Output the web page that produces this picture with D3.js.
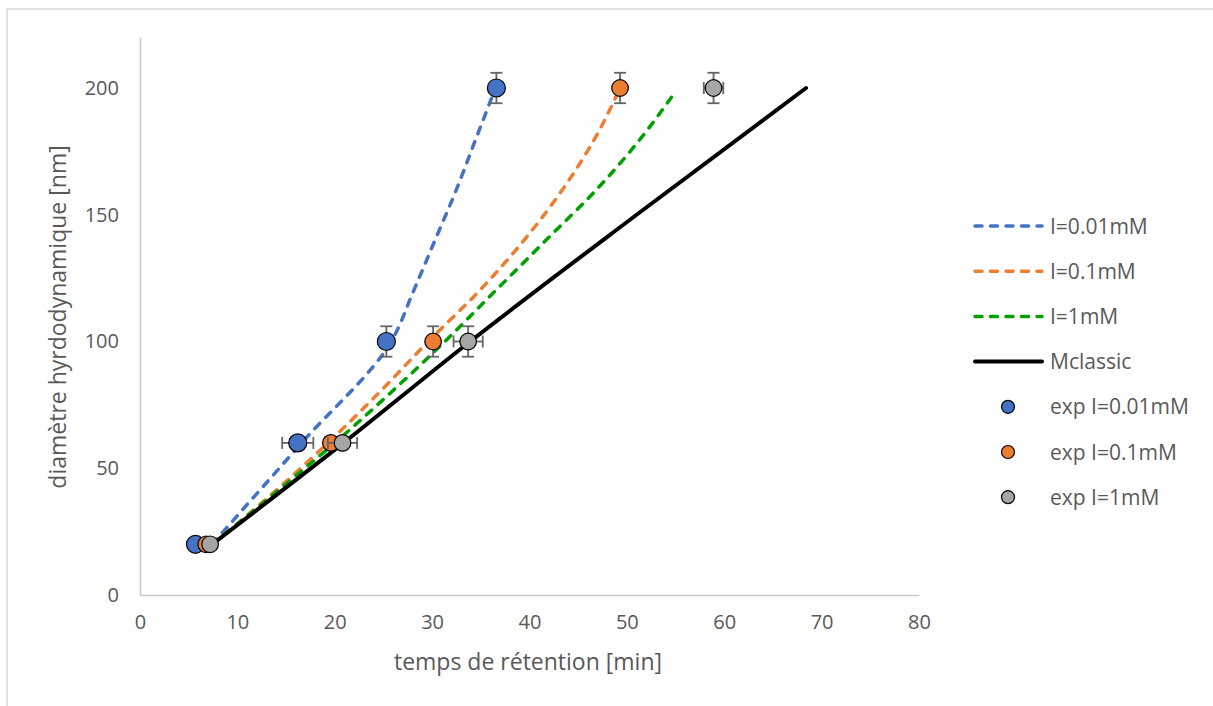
<!DOCTYPE html>
<html><head><meta charset="utf-8">
<script src="https://cdn.jsdelivr.net/npm/d3@7"></script>
<style>html,body{margin:0;padding:0;background:#fff;overflow:hidden}</style>
</head><body>
<svg id="c" width="1213" height="706"></svg>
<script>
// ---- data ----
const diameters = [20, 60, 100, 200];
const expTimeI001 = [5.7, 16.2, 25.3, 36.6];
const expTimeI01  = [6.8, 19.6, 30.1, 49.3];
const expTimeI1   = [7.2, 20.8, 33.7, 58.9];
const yErrI001 = [0, 0, 6, 6];
const xErrI001 = [0, 1.6, 0, 0];
const yErrI01  = [0, 0, 6, 6];
const xErrI01  = [0, 0, 0, 0];
const yErrI1   = [0, 0, 6, 6];
const xErrI1   = [0, 1.5, 1.5, 1.0];

const curveI001_t = [7.4, 16.6, 25.8, 28.1, 30.3, 32.5, 34.5, 36.5];
const curveI001_d = [20, 60, 100, 120, 140, 160, 180, 200];
const curveI01_t  = [7.4, 13.6, 19.3, 24.6, 29.6, 34.85, 39.45, 43.4, 46.7, 49.3];
const curveI01_d  = [20, 40, 60, 80, 100, 120, 140, 160, 180, 200];
const curveI1_t   = [7.4, 13.8, 20.0, 25.8, 31.3, 36.5, 41.7, 46.9, 51.4, 54.7];
const curveI1_d   = [20, 40, 60, 80, 100, 120, 140, 160, 180, 197];
const classic_t   = [7.4, 20.9, 33.9, 51.0, 68.4];
const classic_d   = [20, 60, 100, 150, 200];

const xTicks = [0, 10, 20, 30, 40, 50, 60, 70, 80];
const yTicks = [0, 50, 100, 150, 200];

const lineNames = ["I=0.01mM", "I=0.1mM", "I=1mM", "Mclassic"];
const expNames = ["exp I=0.01mM", "exp I=0.1mM", "exp I=1mM"];
const xTitle = "temps de rétention [min]";
const yTitle = "diamètre hyrdodynamique [nm]";

// ---- drawing ----
const svg = d3.select("#c");
const textCol = "#595959", font = "'Open Sans', sans-serif";

// outer chart border
svg.append("rect").attr("x", 7).attr("y", 9).attr("width", 1300).attr("height", 800)
  .attr("fill", "none").attr("stroke", "#d9d9d9").attr("stroke-width", 1.5);

const x = d3.scaleLinear().domain([0, 80]).range([140, 919]);
const y = d3.scaleLinear().domain([0, 220]).range([595, 37.3]);

// axes
const gx = svg.append("g").attr("transform", `translate(0,${y(0)})`)
  .call(d3.axisBottom(x).tickValues(xTicks).tickSize(0).tickPadding(20));
const gy = svg.append("g").attr("transform", `translate(${x(0)},0)`)
  .call(d3.axisLeft(y).tickValues(yTicks).tickSize(0).tickPadding(21));
[gx, gy].forEach(g => {
  g.select(".domain").attr("stroke", "#c8c8c8").attr("stroke-width", 1.6);
  g.selectAll("text").attr("fill", textCol).style("font-family", font).style("font-size", "20px");
});

// axis titles
svg.append("text").attr("x", 528).attr("y", 670).attr("text-anchor", "middle")
  .attr("fill", textCol).style("font-family", font).style("font-size", "23px").text(xTitle);
svg.append("text").attr("transform", "translate(66,317) rotate(-90)").attr("text-anchor", "middle")
  .attr("fill", textCol).style("font-family", font).style("font-size", "23px").text(yTitle);

// lines
const lineGen = d3.line().x(d => x(d[0])).y(d => y(d[1])).curve(d3.curveMonotoneY);
const dashPat = "7,8.5";
const lines = [
  {t: curveI001_t, d: curveI001_d, color: "#4472C4", dash: dashPat, w: 3.5},
  {t: curveI01_t, d: curveI01_d, color: "#ED7D31", dash: dashPat, w: 3.5},
  {t: curveI1_t, d: curveI1_d, color: "#00A000", dash: dashPat, w: 3.5},
  {t: classic_t, d: classic_d, color: "#000000", dash: null, w: 4}
];
lines.forEach(L => {
  svg.append("path").datum(L.t.map((v, i) => [v, L.d[i]]))
    .attr("d", lineGen).attr("fill", "none").attr("stroke", L.color)
    .attr("stroke-width", L.w).attr("stroke-dasharray", L.dash)
    .attr("stroke-linecap", "round");
});

// experimental points with error bars
const exps = [
  {t: expTimeI001, ye: yErrI001, xe: xErrI001, color: "#4472C4", r: 9},
  {t: expTimeI01, ye: yErrI01, xe: xErrI01, color: "#ED7D31", r: 8.3},
  {t: expTimeI1, ye: yErrI1, xe: xErrI1, color: "#A5A5A5", r: 8.3}
];
const cap = 6, ebCol = "#666666";
exps.forEach(E => {
  const g = svg.append("g");
  E.t.forEach((tv, i) => {
    const cx = x(tv), cy = y(diameters[i]);
    if (E.ye[i] > 0) {
      const y1 = y(diameters[i] + E.ye[i]), y2 = y(diameters[i] - E.ye[i]);
      g.append("line").attr("x1", cx).attr("x2", cx).attr("y1", y1).attr("y2", y2).attr("stroke", ebCol).attr("stroke-width", 1.8);
      [y1, y2].forEach(yy => g.append("line").attr("x1", cx - cap).attr("x2", cx + cap).attr("y1", yy).attr("y2", yy).attr("stroke", ebCol).attr("stroke-width", 1.8));
    }
    if (E.xe[i] > 0) {
      const x1 = x(tv - E.xe[i]), x2 = x(tv + E.xe[i]);
      g.append("line").attr("x1", x1).attr("x2", x2).attr("y1", cy).attr("y2", cy).attr("stroke", ebCol).attr("stroke-width", 1.8);
      [x1, x2].forEach(xx => g.append("line").attr("x1", xx).attr("x2", xx).attr("y1", cy - cap).attr("y2", cy + cap).attr("stroke", ebCol).attr("stroke-width", 1.8));
    }
  });
  g.selectAll("circle").data(E.t).join("circle")
    .attr("cx", d => x(d)).attr("cy", (d, i) => y(diameters[i])).attr("r", E.r)
    .attr("fill", E.color).attr("stroke", "#000").attr("stroke-width", 1.2);
});

// legend
const lg = svg.append("g");
const rowY = i => 226 + i * 45.2;
lineNames.forEach((n, i) => {
  const L = lines[i];
  lg.append("line").attr("x1", 975).attr("x2", 1042).attr("y1", rowY(i)).attr("y2", rowY(i))
    .attr("stroke", L.color).attr("stroke-width", L.w).attr("stroke-dasharray", L.dash)
    .attr("stroke-linecap", "round");
  lg.append("text").attr("x", 1050).attr("y", rowY(i)).attr("dy", "0.36em")
    .attr("fill", textCol).style("font-family", font).style("font-size", "21px").text(n);
});
expNames.forEach((n, j) => {
  const i = j + 4;
  lg.append("circle").attr("cx", 1008).attr("cy", rowY(i)).attr("r", 6.5)
    .attr("fill", exps[j].color).attr("stroke", "#000").attr("stroke-width", 1.2);
  lg.append("text").attr("x", 1050).attr("y", rowY(i)).attr("dy", "0.36em")
    .attr("fill", textCol).style("font-family", font).style("font-size", "21px").text(n);
});
</script>
</body></html>
